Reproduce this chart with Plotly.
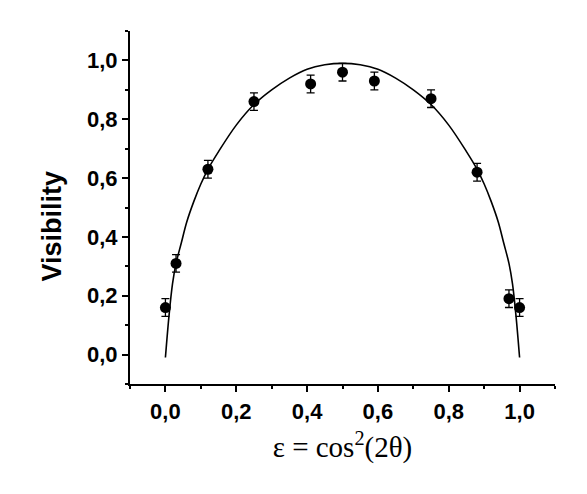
import plotly.graph_objects as go

# measured points
eps = [0.0, 0.03, 0.12, 0.25, 0.41, 0.5, 0.59, 0.75, 0.88, 0.97, 1.0]
vis = [0.16, 0.31, 0.63, 0.86, 0.92, 0.96, 0.93, 0.87, 0.62, 0.19, 0.16]
vis_err = [0.03, 0.03, 0.03, 0.03, 0.03, 0.03, 0.03, 0.03, 0.03, 0.03, 0.03]

# theory curve
curve_eps = [0.0, 0.01, 0.02, 0.03, 0.045, 0.06, 0.08, 0.1, 0.12, 0.15, 0.2, 0.25,
             0.3, 0.35, 0.4, 0.45, 0.5, 0.55, 0.6, 0.65, 0.7, 0.75, 0.8, 0.85,
             0.88, 0.9, 0.92, 0.94, 0.955, 0.97, 0.98, 0.99, 1.0]
curve_vis = [-0.01, 0.13, 0.24, 0.31, 0.38, 0.45, 0.52, 0.58, 0.63, 0.69, 0.78, 0.85,
             0.90, 0.94, 0.97, 0.985, 0.99, 0.985, 0.97, 0.94, 0.90, 0.85, 0.78, 0.69,
             0.63, 0.58, 0.52, 0.45, 0.38, 0.31, 0.24, 0.13, -0.01]

fig = go.Figure()

fig.add_trace(go.Scatter(x=curve_eps, y=curve_vis, mode="lines", line_shape="spline",
                         line=dict(color="black", width=1.6), hoverinfo="skip"))

fig.add_trace(go.Scatter(x=eps, y=vis, mode="markers",
                         marker=dict(color="black", size=11),
                         error_y=dict(type="data", array=vis_err, color="black",
                                      thickness=1.3, width=4)))

tick_font = dict(family="Liberation Sans", size=22, color="black", weight="bold")
axis_common = dict(
    showline=True, linecolor="black", linewidth=2.2, mirror=False,
    showgrid=False, zeroline=False,
    ticks="outside", ticklen=6, tickwidth=2, tickcolor="black",
    tickformat=".1f", dtick=0.2, tick0=0, tickfont=tick_font,
    minor=dict(ticks="outside", ticklen=3, tickwidth=2, tickcolor="black", dtick=0.1),
)

fig.update_xaxes(range=[-0.1, 1.1], **axis_common,
                 title=dict(text="ε = cos<sup>2</sup>(2θ)", standoff=14,
                            font=dict(family="Liberation Serif", size=29, color="black")))
fig.update_yaxes(range=[-0.1, 1.1], **axis_common)

# y title sits a bit below the axis middle in the original, so place it by hand
fig.add_annotation(text="Visibility", textangle=-90, showarrow=False,
                   xref="paper", x=0, xanchor="center", xshift=-78,
                   yref="y", y=0.435, yanchor="middle",
                   font=dict(family="Liberation Sans", size=27, color="black", weight="bold"))

# page body adds an 8px offset, so the figure is 8px smaller than the window
fig.update_layout(
    width=579, height=486,
    margin=dict(l=122, r=32, t=23, b=110),
    plot_bgcolor="white", paper_bgcolor="white",
    separators=",.",
    showlegend=False,
)

fig.write_html("out.html")
